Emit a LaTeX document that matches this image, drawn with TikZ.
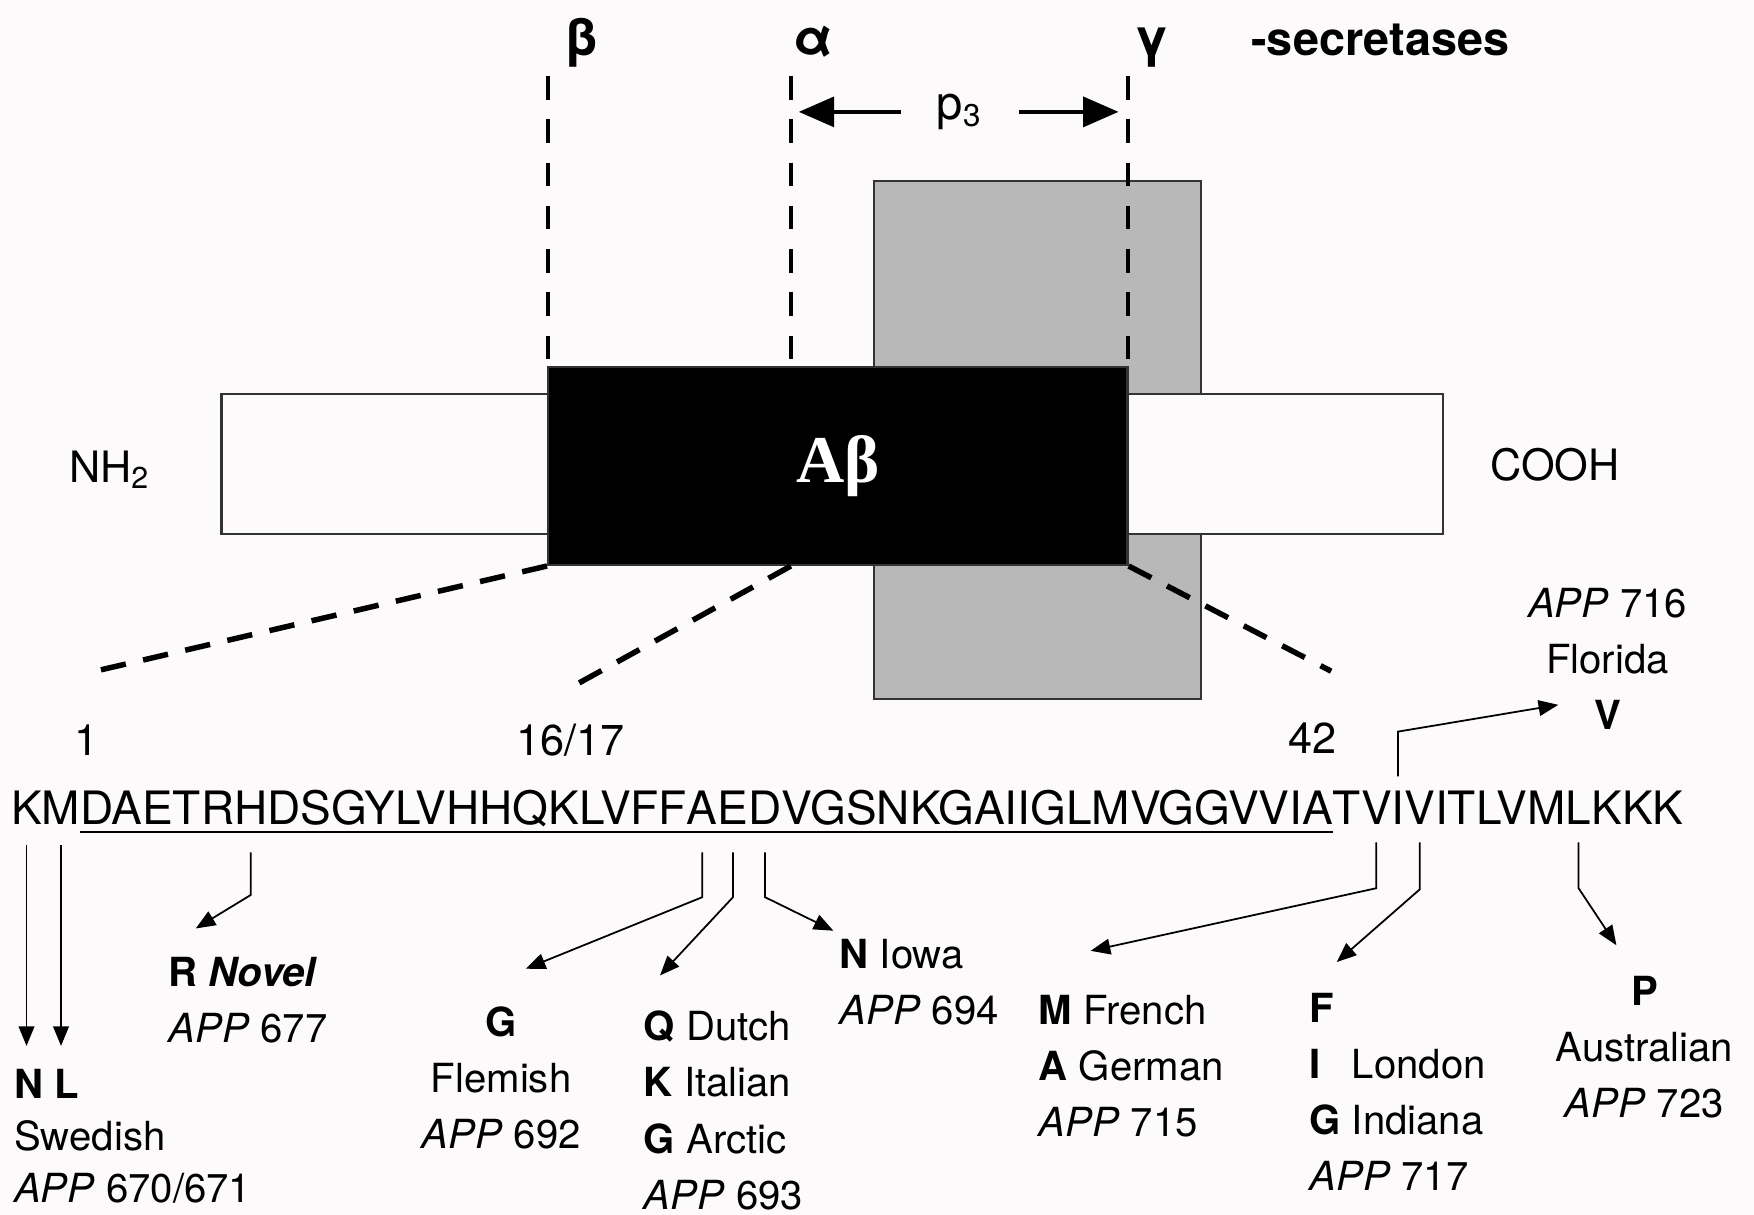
\documentclass[tikz,border=0pt]{standalone}
\usepackage{fontspec}
\setmainfont{TeX Gyre Heros}
\newfontfamily\timesfont{Liberation Serif}
\usetikzlibrary{arrows.meta}

\definecolor{bg}{RGB}{253,250,252}
\definecolor{tmgray}{RGB}{184,184,184}

\tikzset{
        box/.style={draw=black!80, line width=0.55pt},
        cut/.style={line width=1pt, dash pattern=on 6pt off 5pt},
        zoomline/.style={line width=1.4pt, dash pattern=on 6.5pt off 4.5pt},
        mut/.style={line width=0.45pt, -{Triangle[length=5pt,width=4pt]}},
        big/.style={line width=1.2pt, -{Triangle[length=9pt,width=7.5pt]}},
        sec/.style={anchor=base, inner sep=0pt, font=\fontsize{13}{15}\selectfont\bfseries},
        seq/.style={inner sep=0pt, outer sep=0pt, anchor=base west, font=\fontsize{11.7}{14}\selectfont},
        lab/.style={inner sep=0pt, font=\fontsize{10.2}{14.3}\selectfont},
        num/.style={font=\fontsize{11}{13}\selectfont}
}

\begin{document}
\begin{tikzpicture}[x=0.1mm, y=-0.1mm]
        \useasboundingbox[fill=bg] (0,0) rectangle (1568,1086);

        % membrána a APP
        \draw[box, fill=tmgray] (781,162) rectangle (1074,625);
        \draw[box, fill=bg] (198,352) rectangle (490,477);
        \draw[box, fill=bg] (1008,352) rectangle (1290,477);
        \node[box, fill=black, minimum width=51.8mm, minimum height=17.7mm, inner sep=0pt,
              text=white, font=\timesfont\bfseries\fontsize{17}{20}\selectfont] (abeta) at (749,416.5) {\raisebox{-1.2pt}{Aβ}};
        \node[num] (nh) at (98,420) {NH\textsubscript{2}};
        \node[num] (cooh) at (1390,415) {COOH};

        % sekretázy
        \node[sec] (beta) at (520,50) {β};
        \node[sec] (alpha) at (727,50) {α};
        \node[sec] (gamma) at (1030,50) {γ};
        \node[sec, anchor=base west, font=\fontsize{11.9}{15}\selectfont\bfseries] (secr) at (1118,50) {-secretases};
        \coordinate (bcut) at (490,68);
        \coordinate (acut) at (707,68);
        \coordinate (gcut) at (1008,68);
        \draw[cut] (bcut) -- (bcut |- abeta.north);
        \draw[cut] (acut) -- (acut |- abeta.north);
        \draw[cut] (gcut) -- (gcut |- abeta.north);

        \node[font=\fontsize{12}{14}\selectfont] (p3) at (858,100) {p\textsubscript{3}};
        \draw[big, shorten <=2mm, shorten >=0.7mm] (p3.west) -- (p3.west -| acut);
        \draw[big, shorten <=2mm, shorten >=0.8mm] (p3.east) -- (p3.east -| gcut);

        % výřez
        \coordinate (z1) at (85,600);
        \coordinate (z2) at (515,612);
        \coordinate (z3) at (1190,600);
        \draw[zoomline] (abeta.south west) -- (z1);
        \draw[zoomline] (abeta.south -| acut) -- (z2);
        \draw[zoomline] (abeta.south east) -- (z3);

        \node[num] (n1) at (77,662) {1};
        \node[num] (n16) at (510,662) {16/17};
        \node[num] (n42) at (1173,660) {42};

        % sekvence
        \node[seq] (app670) at (10,737) {K};
        \node[seq] (app671) at (app670.base east) {M};
        \node[seq] (s1) at (app671.base east) {DAETR};
        \node[seq] (app677) at (s1.base east) {H};
        \node[seq] (s2) at (app677.base east) {DSGYLVHHQKLVFF};
        \node[seq] (app692) at (s2.base east) {A};
        \node[seq] (app693) at (app692.base east) {E};
        \node[seq] (app694) at (app693.base east) {D};
        \node[seq] (s3) at (app694.base east) {VGSNKGAIIGLMVGGVVIA};
        \node[seq] (s4) at (s3.base east) {T};
        \node[seq] (app715) at (s4.base east) {V};
        \node[seq] (app716) at (app715.base east) {I};
        \node[seq] (app717) at (app716.base east) {V};
        \node[seq] (s5) at (app717.base east) {ITLVM};
        \node[seq] (app723) at (s5.base east) {L};
        \node[seq] (s6) at (app723.base east) {KKK};
        \draw[line width=0.6pt] ([shift={(0,7)}]s1.base west) -- ([shift={(0,7)}]s3.base east);

        % mutace
        \node[lab, align=left, anchor=north west, font=\fontsize{10.2}{13.3}\selectfont] (swe) at (12,955) {\textbf{N L}\\Swedish\\\textit{APP} 670/671};
        \node[lab, align=left, anchor=north west] (nov) at (150,855) {\textbf{R \textit{Novel}}\\\textit{APP} 677};
        \node[lab, align=center, anchor=north] (fle) at (448,899) {\textbf{G}\\Flemish\\\textit{APP} 692};
        \node[lab, align=left, anchor=north west] (dut) at (575,903) {\textbf{Q} Dutch\\\textbf{K} Italian\\\textbf{G} Arctic\\\textit{APP} 693};
        \node[lab, align=left, anchor=north west] (iow) at (750,839) {\textbf{N} Iowa\\\textit{APP} 694};
        \node[lab, align=left, anchor=north west] (fre) at (928,889) {\textbf{M} French\\\textbf{A} German\\\textit{APP} 715};
        \node[lab, align=left, anchor=north west] (lon) at (1170,887) {\textbf{F}\\\rlap{\textbf{I}}\hphantom{\textbf{G}} London\\\textbf{G} Indiana\\\textit{APP} 717};
        \node[lab, align=center, anchor=north] (aus) at (1470,872) {\textbf{P}\\Australian\\\textit{APP} 723};
        \node[lab, align=center, anchor=north] (flo) at (1437,525) {\textit{APP} 716\\Florida\\\textbf{V}};

        \draw[mut] ([shift={(0,18)}]app670.south) -- ([shift={(0,-20)}]app670.south |- swe.north);
        \draw[mut] ([shift={(0,18)}]app671.south) -- ([shift={(0,-20)}]app671.south |- swe.north);
        \draw[mut] ([shift={(0,25)}]app677.south) -- ++(0,38) -- ([shift={(25,-25)}]nov.north west);
        \draw[mut] ([shift={(0,25)}]app692.south) -- ++(0,40) -- ([shift={(22,-33)}]fle.north);
        \draw[mut] ([shift={(0,25)}]app693.south) -- ++(0,40) -- ([shift={(15,-31)}]dut.north west);
        \draw[mut] ([shift={(0,25)}]app694.south) -- ++(0,40) -- ([shift={(-5,-7)}]iow.north west);
        \draw[mut] ([shift={(0,16)}]app715.south) -- ++(0,41) -- ([shift={(47,-39)}]fre.north west);
        \draw[mut] ([shift={(0,16)}]app717.south) -- ++(0,42) -- ([shift={(25,-27)}]lon.north west);
        \draw[mut] ([shift={(0,16)}]app723.south) -- ++(0,41) -- ([shift={(-25,-27)}]aus.north);
        \draw[mut] ([shift={(0,-13)}]app716.north) -- ++(0,-40) -- ([shift={(-44,-23)}]flo.south);
\end{tikzpicture}
\end{document}
